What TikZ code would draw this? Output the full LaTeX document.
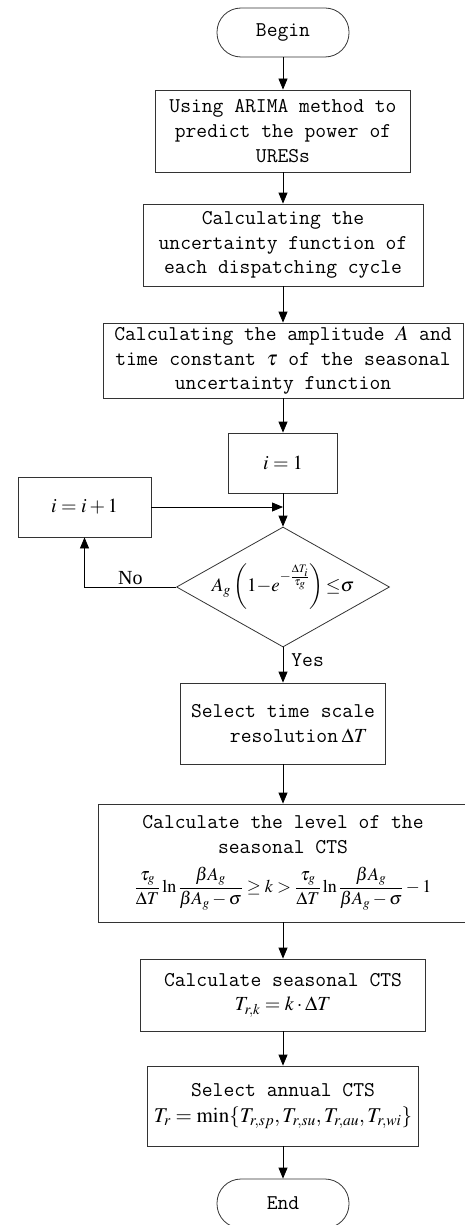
\documentclass[tikz,border=0pt]{standalone}
\usepackage{mathptmx}
\usepackage[no-math]{fontspec}
\setmainfont{Liberation Serif}
\usetikzlibrary{arrows.meta,shapes.geometric}
\newcommand{\flowfont}{\ttfamily\fontsize{21}{24.7}\selectfont}
\newcommand{\eqfont}{\fontsize{20}{24}\selectfont}

\begin{document}
\begin{tikzpicture}[x=1pt,y=-1pt,
    proc/.style={draw=black!80,line width=0.8pt,align=center,inner sep=0pt,font=\flowfont},
    term/.style={proc,rounded corners=24pt,minimum width=132pt,minimum height=49pt},
    link/.style={black,line width=0.8pt,-{Triangle[length=11pt,width=9pt]}},
    lbl/.style={inner sep=2pt}]
  \useasboundingbox (0,0) rectangle (465,1225);

  % main column
  \node[term] (begin) at (283,32.5) {Begin};
  \node[proc,minimum width=255pt,minimum height=82pt] (arima) at (283,131)
    {Using ARIMA method to\\predict the power of\\URESs};
  \node[proc,minimum width=280pt,minimum height=82pt] (ufunc) at (283,245)
    {Calculating the\\uncertainty function of\\each dispatching cycle};
  \node[proc,minimum width=360pt,minimum height=75pt] (amp) at (283,360.5)
    {Calculating the amplitude $A$ and\\time constant $\tau$ of the seasonal\\uncertainty function};
  \node[proc,minimum width=109pt,minimum height=60pt,font=\eqfont] (init) at (283,463) {$i=1$};
  \node[proc,minimum width=133pt,minimum height=60pt,font=\eqfont] (inc) at (84.5,507) {$i=i+1$};
  \node[proc,shape=diamond,aspect=1.78,inner sep=-6pt,minimum width=213pt,minimum height=120pt,
        font=\fontsize{19}{23}\selectfont] (check) at (283,587)
    {$A_g\left(1{-}e^{-\frac{\Delta T_i}{\tau_g}}\right){\le}\sigma$};
  \node[proc,minimum width=205pt,minimum height=81pt] (res) at (283,723.5)
    {Select time scale\\\hspace*{1.5em}resolution\,{\eqfont$\Delta T$}};
  \node[proc,minimum width=370pt,minimum height=118pt] (level) at (283,863)
    {Calculate the level of the\\seasonal CTS\\[12pt]
     {\fontsize{18}{22}\selectfont$\displaystyle\frac{\tau_g}{\Delta T}\ln\frac{\beta A_g}{\beta A_g-\sigma}\ge k>\frac{\tau_g}{\Delta T}\ln\frac{\beta A_g}{\beta A_g-\sigma}-1$}};
  \node[proc,minimum width=285pt,minimum height=72pt] (cts) at (283,995)
    {Calculate seasonal CTS\\{\eqfont$T_{r,k}=k\cdot\Delta T$}};
  \node[proc,minimum width=271pt,minimum height=80pt] (annual) at (283,1106)
    {Select annual CTS\\[2pt]{\fontsize{21}{24}\selectfont$T_r=\min\{T_{r,sp},T_{r,su},T_{r,au},T_{r,wi}\}$}};
  \node[term] (end) at (283,1203.5) {End};

  % connectors
  \draw[link] (begin) -- (arima);
  \draw[link] (arima) -- (ufunc);
  \draw[link] (ufunc) -- (amp);
  \draw[link] (amp) -- (init);
  \draw[link] (init) -- (check);
  \draw[link] (inc.east) -- (inc.east -| check.north);
  \draw[link] (check.west) -| node[lbl,pos=0.25,above,font=\eqfont] {No} (inc.south);
  \draw[link] (check.south) -- node[lbl,right,pos=0.35,inner sep=8pt,font=\flowfont] {Yes} (res.north);
  \draw[link] (res) -- (level);
  \draw[link] (level) -- (cts);
  \draw[link] (cts) -- (annual);
  \draw[link] (annual) -- (end);
\end{tikzpicture}
\end{document}
